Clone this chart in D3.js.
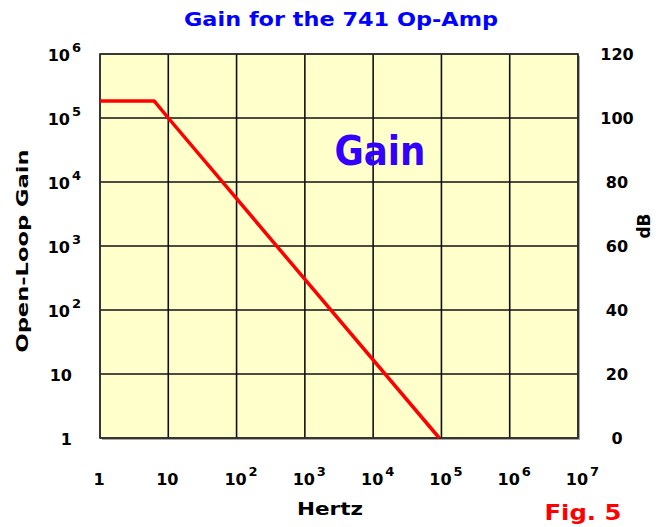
<!DOCTYPE html>
<html>
<head>
<meta charset="utf-8">
<script src="https://cdn.jsdelivr.net/npm/d3@7"></script>
<style>
  body { margin: 0; background: #fff; }
  svg { display: block; }
  text { font-family: "DejaVu Sans", Verdana, sans-serif; font-weight: bold; }
</style>
</head>
<body>
<svg id="chart" width="656" height="527"></svg>
<script>
// tick values for the three axes
const hertzTicks = [1, 10, 1e2, 1e3, 1e4, 1e5, 1e6, 1e7];
const gainTicks = [1, 10, 1e2, 1e3, 1e4, 1e5, 1e6];
const dbTicks = [0, 20, 40, 60, 80, 100, 120];

// open-loop gain curve
const curveHz = [1, 6.2, 10, 93000];
const curveGain = [185000, 185000, 100000, 1];

const svg = d3.select("#chart");

const plotL = 100, plotR = 578, plotT = 54, plotB = 438;

const x = d3.scaleLog().domain([1, 1e7]).range([plotL, plotR]);
const y = d3.scaleLog().domain([1, 1e6]).range([plotB, plotT]);
const yDb = d3.scaleLinear().domain([0, 120]).range([plotB, plotT]);

// shadow + plot background
svg.append("rect")
  .attr("x", plotL + 2).attr("y", plotT + 2)
  .attr("width", plotR - plotL).attr("height", plotB - plotT)
  .attr("fill", "#a8a8a8");
svg.append("rect")
  .attr("x", plotL).attr("y", plotT)
  .attr("width", plotR - plotL).attr("height", plotB - plotT)
  .attr("fill", "#ffffcc");

// grid
svg.append("g").selectAll("line").data(hertzTicks).join("line")
  .attr("x1", d => x(d)).attr("x2", d => x(d))
  .attr("y1", plotT).attr("y2", plotB)
  .attr("stroke", "#111").attr("stroke-width", 1.6);
svg.append("g").selectAll("line").data(gainTicks).join("line")
  .attr("x1", plotL).attr("x2", plotR)
  .attr("y1", d => y(d)).attr("y2", d => y(d))
  .attr("stroke", "#111").attr("stroke-width", 1.6);

svg.append("rect")
  .attr("x", plotL).attr("y", plotT)
  .attr("width", plotR - plotL).attr("height", plotB - plotT)
  .attr("fill", "none").attr("stroke", "#333").attr("stroke-width", 1.6);

// the red gain line
const line = d3.line().x(d => x(d[0])).y(d => y(d[1]));
svg.append("path")
  .datum(d3.zip(curveHz, curveGain))
  .attr("d", line)
  .attr("fill", "none")
  .attr("stroke", "#ff0000")
  .attr("stroke-width", 3.5)
  .attr("stroke-linejoin", "round");

const exp = v => Math.round(Math.log10(v));

// left labels (powers of ten)
const leftLab = svg.append("g").attr("font-size", 16).attr("fill", "#000");
gainTicks.forEach(v => {
  const e = exp(v);
  const yy = y(v) + 7;
  if (e < 2) {
    leftLab.append("text").attr("x", 72).attr("y", yy).attr("text-anchor", "end").text(v);
  } else {
    leftLab.append("text").attr("x", 70).attr("y", yy).attr("text-anchor", "end").text("10");
    leftLab.append("text").attr("x", 72).attr("y", yy - 9).attr("font-size", 13).text(e);
  }
});

// bottom labels
const botLab = svg.append("g").attr("font-size", 16).attr("fill", "#000");
hertzTicks.forEach(v => {
  const e = exp(v);
  const yy = 485;
  if (e < 2) {
    botLab.append("text").attr("x", x(v) - 1).attr("y", yy).attr("text-anchor", "middle").text(v);
  } else {
    botLab.append("text").attr("x", x(v) - 1).attr("y", yy).attr("text-anchor", "middle").text("10");
    botLab.append("text").attr("x", x(v) + 12).attr("y", yy - 9).attr("font-size", 13).text(e);
  }
});

// right dB labels
svg.append("g").attr("font-size", 16).attr("fill", "#000")
  .selectAll("text").data(dbTicks).join("text")
  .attr("x", 617).attr("y", d => yDb(d) + 6)
  .attr("text-anchor", "middle")
  .text(d => d);

// titles
svg.append("text")
  .attr("x", 341).attr("y", 26)
  .attr("text-anchor", "middle")
  .attr("font-size", 19).attr("fill", "#0000ff")
  .attr("textLength", 314).attr("lengthAdjust", "spacingAndGlyphs")
  .text("Gain for the 741 Op-Amp");

svg.append("text")
  .attr("x", 380).attr("y", 165)
  .attr("text-anchor", "middle")
  .attr("font-size", 40).attr("fill", "#3300ff")
  .attr("textLength", 91).attr("lengthAdjust", "spacingAndGlyphs")
  .text("Gain");

svg.append("text")
  .attr("transform", "translate(28,251) rotate(-90)")
  .attr("text-anchor", "middle")
  .attr("font-size", 16)
  .attr("textLength", 203).attr("lengthAdjust", "spacingAndGlyphs")
  .text("Open-Loop Gain");

svg.append("text")
  .attr("transform", "translate(650,226) rotate(-90)")
  .attr("text-anchor", "middle")
  .attr("font-size", 17)
  .text("dB");

svg.append("text")
  .attr("x", 330).attr("y", 515)
  .attr("text-anchor", "middle")
  .attr("font-size", 17)
  .attr("textLength", 66).attr("lengthAdjust", "spacingAndGlyphs")
  .text("Hertz");

svg.append("text")
  .attr("x", 583).attr("y", 520)
  .attr("text-anchor", "middle")
  .attr("font-size", 21).attr("fill", "#ff0000")
  .attr("textLength", 77).attr("lengthAdjust", "spacingAndGlyphs")
  .text("Fig. 5");
</script>
</body>
</html>
